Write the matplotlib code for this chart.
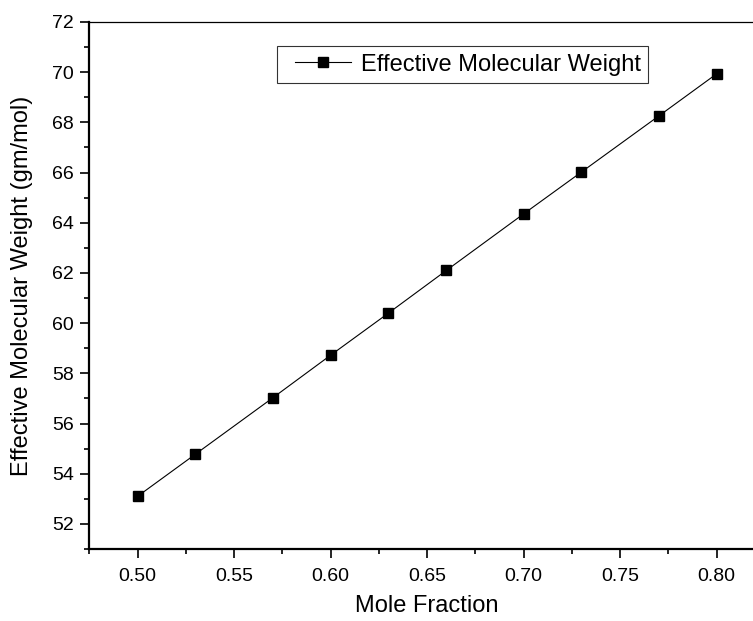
import matplotlib
matplotlib.use('Agg')
import matplotlib.pyplot as plt
from matplotlib.ticker import MultipleLocator, FormatStrFormatter
from matplotlib.legend_handler import HandlerLine2D

plt.rcParams['font.family'] = ['Liberation Sans', 'DejaVu Sans']

# data
mole_fraction = [0.50, 0.53, 0.57, 0.60, 0.63, 0.66, 0.70, 0.73, 0.77, 0.80]
mol_weight = [53.1, 54.78, 57.02, 58.72, 60.4, 62.1, 64.35, 66.02, 68.25, 69.93]
series_label = 'Effective Molecular Weight'

fig = plt.figure(figsize=(7.53, 6.21), dpi=100)
# right edge of the axes runs past the figure, like the cropped original
ax = fig.add_axes([0.1186, 0.1159, 0.897, 0.8487])

line, = ax.plot(mole_fraction, mol_weight, color='black', lw=0.8,
                marker='s', markersize=7.5, markerfacecolor='black',
                markeredgecolor='black', label=series_label)

ax.set_xlim(0.475, 0.825)
ax.set_ylim(51, 72)
ax.xaxis.set_major_locator(MultipleLocator(0.05))
ax.xaxis.set_minor_locator(MultipleLocator(0.025))
ax.xaxis.set_major_formatter(FormatStrFormatter('%.2f'))
ax.yaxis.set_major_locator(MultipleLocator(2))
ax.yaxis.set_minor_locator(MultipleLocator(1))

ax.tick_params(which='major', direction='out', length=6.5, width=1.2,
               labelsize=14, colors='black', pad=4.5)
ax.tick_params(axis='x', which='major', pad=7)
ax.tick_params(which='minor', direction='out', length=3.5, width=1.2)

for side in ('left', 'bottom'):
    ax.spines[side].set_linewidth(1.6)
ax.spines['top'].set_linewidth(0.9)
ax.spines['right'].set_visible(False)

ax.set_xlabel('Mole Fraction', fontsize=17)
ax.set_ylabel('Effective Molecular Weight (gm/mol)', fontsize=17)
ax.xaxis.set_label_coords(0.5, -0.088)
ax.yaxis.set_label_coords(-0.084, 0.5)

leg = ax.legend(loc='upper left', bbox_to_anchor=(0.278, 0.9545),
                borderaxespad=0, fontsize=17, frameon=True, fancybox=False,
                edgecolor='black', handlelength=2.8, borderpad=0.32,
                handletextpad=0.42,
                handler_map={line: HandlerLine2D(xpad=0.42)})
leg.get_frame().set_linewidth(0.8)

fig.savefig('out.png', dpi=100)
